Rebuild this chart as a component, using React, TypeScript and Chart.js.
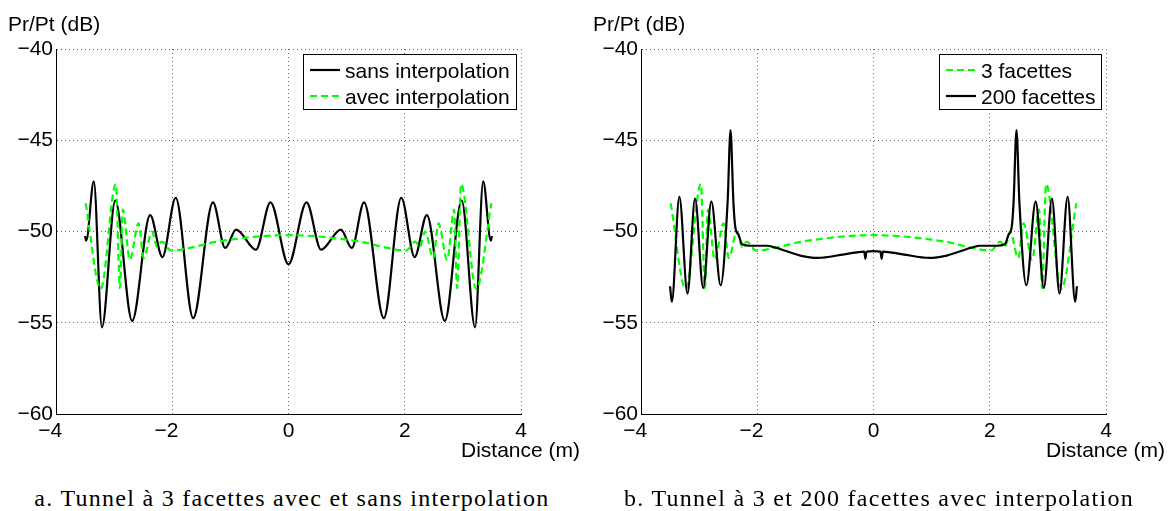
import React, { useEffect, useRef } from 'react';
import { Chart, registerables } from 'chart.js';

Chart.register(...registerables);

// ---- Data ----
// Panel a: black "sans interpolation"
const sansX = [-3.5, -3.48, -3.35, -3.21, -2.98, -2.69, -2.38, -2.17, -1.94, -1.64, -1.3, -1.09, -0.9, -0.56, -0.31, 0, 0.31, 0.56, 0.9, 1.09, 1.3, 1.64, 1.94, 2.17, 2.38, 2.69, 2.98, 3.21, 3.35, 3.48, 3.5];
const sansY = [-50.25, -50.5, -47.25, -55.25, -48.3, -54.9, -49.1, -51.4, -48.15, -54.75, -48.4, -50.9, -49.9, -51.0, -48.4, -51.8, -48.4, -51.0, -49.9, -50.9, -48.4, -54.75, -48.15, -51.4, -49.1, -54.9, -48.3, -55.25, -47.25, -50.5, -50.25];

// Green dashed: "avec interpolation" (panel a) == "3 facettes" (panel b)
const avecX = [-3.49, -3.23, -2.97, -2.9, -2.85, -2.73, -2.58, -2.49, -2.35, -2.26, -2.18, -2.02, -1.7, -1.3, -1.0, -0.5, 0, 0.5, 1.0, 1.3, 1.7, 2.02, 2.18, 2.26, 2.35, 2.49, 2.58, 2.73, 2.85, 2.9, 2.97, 3.23, 3.49];
const avecY = [-48.45, -53.15, -47.4, -53.1, -48.8, -51.55, -49.55, -51.45, -50.0, -50.85, -50.55, -51.05, -50.9, -50.6, -50.45, -50.27, -50.2, -50.27, -50.45, -50.6, -50.9, -51.05, -50.55, -50.85, -50.0, -51.45, -49.55, -51.55, -48.8, -53.1, -47.4, -53.15, -48.45];

// Panel b: black "200 facettes"
const fac200X = [-3.5, -3.47, -3.34, -3.2, -3.07, -2.93, -2.79, -2.63, -2.51, -2.46, -2.41, -2.38, -2.32, -2.26, -2.12, -1.83, -1.72, -1.26, -0.96, -0.5, -0.16, -0.14, -0.12, 0, 0.12, 0.14, 0.16, 0.5, 0.96, 1.26, 1.72, 1.83, 2.12, 2.26, 2.32, 2.38, 2.41, 2.46, 2.51, 2.63, 2.79, 2.93, 3.07, 3.2, 3.34, 3.47, 3.5];
const fac200Y = [-53.0, -53.85, -48.1, -53.4, -48.2, -53.1, -48.35, -52.95, -48.4, -44.45, -48.4, -49.7, -50.2, -50.7, -50.78, -50.78, -50.85, -51.32, -51.45, -51.25, -51.1, -51.5, -51.1, -51.08, -51.1, -51.5, -51.1, -51.25, -51.45, -51.32, -50.85, -50.78, -50.78, -50.7, -50.2, -49.7, -48.4, -44.45, -48.4, -52.95, -48.35, -53.1, -48.2, -53.4, -48.1, -53.85, -53.0];

const xTicks = [-4, -2, 0, 2, 4];
const yTicks = [-60, -55, -50, -45, -40];

const yTitle = 'Pr/Pt (dB)';
const xTitle = 'Distance (m)';
const captionA = 'a. Tunnel à 3 facettes avec et sans interpolation';
const captionB = 'b. Tunnel à 3 et 200 facettes avec interpolation';

const SANS = '"Liberation Sans", Arial, Helvetica, sans-serif';
const FS = 21;
const BLACK = '#000000';
const GREEN = '#00ff00';

const toPts = (xs: number[], ys: number[]) => xs.map((x, i) => ({ x, y: ys[i] }));
const fmt = (v: number) => (v < 0 ? '\u2212' + Math.abs(v) : String(v));

const decorPlugin = {
  id: 'decor',
  afterDraw(chart: any, _args: any, opts: any) {
    const { ctx, chartArea: a } = chart;
    ctx.save();
    ctx.fillStyle = '#000';
    ctx.font = `${FS}px ${SANS}`;
    ctx.textBaseline = 'alphabetic';
    ctx.textAlign = 'left';
    ctx.fillText(opts.yTitle, a.left - 48, a.top - 18);
    ctx.textAlign = 'right';
    ctx.fillText(opts.xTitle, a.right + 59, a.bottom + 43);

    // legend box
    const order: number[] = opts.order;
    const dsets = chart.data.datasets;
    const w = Math.max(...order.map((i) => ctx.measureText(dsets[i].label).width));
    const bw = Math.round(42 + w + 6);
    const bh = 55;
    const bx = Math.round(a.right - 5 - bw);
    const by = Math.round(a.top + 5);
    ctx.fillStyle = '#fff';
    ctx.fillRect(bx, by, bw, bh);
    ctx.strokeStyle = '#000';
    ctx.lineWidth = 1;
    ctx.setLineDash([]);
    ctx.strokeRect(bx + 0.5, by + 0.5, bw, bh);
    order.forEach((di, k) => {
      const ds = dsets[di];
      const cy = by + 16 + k * 26;
      ctx.beginPath();
      ctx.setLineDash(ds.borderDash || []);
      ctx.strokeStyle = ds.borderColor;
      ctx.lineWidth = ds.borderWidth;
      ctx.moveTo(bx + 7, cy);
      ctx.lineTo(bx + 37, cy);
      ctx.stroke();
      ctx.setLineDash([]);
      ctx.fillStyle = '#000';
      ctx.textAlign = 'left';
      ctx.fillText(ds.label, bx + 42, cy + 7.5);
    });
    ctx.restore();
  },
};

const makeScales = () => ({
  x: {
    type: 'linear',
    min: -4,
    max: 4,
    afterBuildTicks: (s: any) => {
      s.ticks = xTicks.map((v) => ({ value: v }));
    },
    afterFit: (s: any) => {
      s.height = 66;
    },
    grid: { color: 'rgba(0,0,0,0.6)', lineWidth: 1, drawTicks: false },
    border: { display: true, color: '#000', width: 1, dash: [1, 3] },
    ticks: {
      padding: 5,
      color: '#000',
      font: { family: SANS, size: FS },
      maxRotation: 0,
      autoSkip: false,
      callback: (v: number) => (v < 0 ? fmt(v) + '\u2007' : fmt(v)),
    },
  },
  y: {
    type: 'linear',
    min: -60,
    max: -40,
    afterBuildTicks: (s: any) => {
      s.ticks = yTicks.map((v) => ({ value: v }));
    },
    afterFit: (s: any) => {
      s.width = 56;
    },
    grid: { color: 'rgba(0,0,0,0.6)', lineWidth: 1, drawTicks: false },
    border: { display: true, color: '#000', width: 1, dash: [1, 3] },
    ticks: {
      padding: 3,
      color: '#000',
      font: { family: SANS, size: FS },
      autoSkip: false,
      callback: (v: number) => fmt(v),
    },
  },
});

function Panel({ left, width, datasets, order }: any) {
  const ref = useRef<HTMLCanvasElement | null>(null);
  useEffect(() => {
    if (!ref.current) return;
    const chart = new Chart(ref.current, {
      type: 'line',
      data: { datasets },
      options: {
        responsive: false,
        animation: false,
        events: [],
        layout: { padding: { left: 0, top: 49, right: width - 521, bottom: 0 } },
        scales: makeScales() as any,
        plugins: {
          legend: { display: false },
          tooltip: { enabled: false },
          decor: { yTitle, xTitle, order },
        } as any,
      },
      plugins: [decorPlugin as any],
    } as any);
    return () => chart.destroy();
  }, []);
  return (
    <canvas
      ref={ref}
      width={width}
      height={480}
      style={{ position: 'absolute', left, top: 0, width, height: 480 }}
    />
  );
}

const lineStyle = (label: string, xs: number[], ys: number[], color: string, dashed: boolean, order: number) => ({
  label,
  data: toPts(xs, ys),
  borderColor: color,
  borderWidth: 2.2,
  borderDash: dashed ? [7, 4] : [],
  pointRadius: 0,
  cubicInterpolationMode: 'monotone',
  fill: false,
  order,
});

function Caption({ text, center }: { text: string; center: number }) {
  return (
    <div
      style={{
        position: 'absolute',
        left: center - 300,
        width: 600,
        top: 484,
        textAlign: 'center',
        fontFamily: '"Liberation Serif", "Times New Roman", serif',
        fontSize: 24,
        letterSpacing: '1.28px',
        lineHeight: '28px',
        color: '#000',
        whiteSpace: 'nowrap',
      }}
    >
      {text}
    </div>
  );
}

export default function App() {
  const dsA = [
    lineStyle('sans interpolation', sansX, sansY, BLACK, false, 1),
    lineStyle('avec interpolation', avecX, avecY, GREEN, true, 0),
  ];
  const dsB = [
    lineStyle('3 facettes', avecX, avecY, GREEN, true, 1),
    lineStyle('200 facettes', fac200X, fac200Y, BLACK, false, 0),
  ];
  return (
    <div style={{ position: 'absolute', left: 0, top: 0, width: 1174, height: 511, background: '#fff', overflow: 'hidden' }}>
      <Panel left={0} width={590} datasets={dsA} order={[0, 1]} />
      <Panel left={585} width={589} datasets={dsB} order={[0, 1]} />
      <Caption text={captionA} center={292} />
      <Caption text={captionB} center={879} />
    </div>
  );
}
